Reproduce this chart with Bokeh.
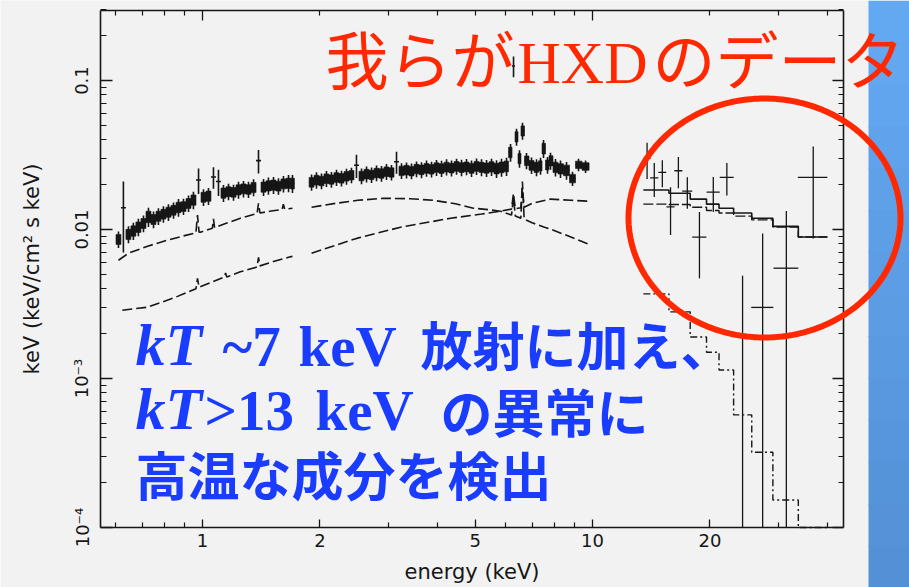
import numpy as np
from bokeh.plotting import figure
from bokeh.models import (FixedTicker, LogAxis, Label, BoxAnnotation, PolyAnnotation,
                          Range1d, BasicTickFormatter)
from bokeh.embed import file_html
from bokeh.resources import INLINE

# ---------------- XIS spectrum: low-energy chip segment (below the Si-edge gap) -------------
xis1_e = [0.609, 0.627, 0.646, 0.665, 0.685, 0.706, 0.727, 0.749, 0.771, 0.794, 0.818, 0.843,
          0.868, 0.894, 0.921, 0.948, 0.977, 1.006, 1.036, 1.067, 1.099, 1.132, 1.166, 1.201,
          1.237, 1.274, 1.312, 1.352, 1.392, 1.434, 1.476, 1.521, 1.566, 1.613, 1.662, 1.701]
xis1_f = [0.0086, 0.0140, 0.0093, 0.0098, 0.0104, 0.0110, 0.0122, 0.0117, 0.0123, 0.0127, 0.0131, 0.0135,
          0.0141, 0.0143, 0.0150, 0.0158, 0.0215, 0.0165, 0.0168, 0.0225, 0.0210, 0.0176, 0.0180, 0.0178,
          0.0185, 0.0188, 0.0186, 0.0192, 0.0290, 0.0193, 0.0197, 0.0199, 0.0196, 0.0203, 0.0205, 0.0204]
xis1_err = [0.0011, 0.0070, 0.0012, 0.0013, 0.0014, 0.0014, 0.0018, 0.0015, 0.0016, 0.0016, 0.0017, 0.0017,
            0.0019, 0.0018, 0.0019, 0.0021, 0.0042, 0.0021, 0.0022, 0.0037, 0.0042, 0.0023, 0.0023, 0.0022,
            0.0024, 0.0024, 0.0023, 0.0025, 0.0052, 0.0025, 0.0026, 0.0026, 0.0025, 0.0026, 0.0027, 0.0028]

# ---------------- XIS spectrum: 1.9-10 keV segment ---------------------------------------------
xis2_e = [1.904, 1.960, 2.019, 2.079, 2.141, 2.206, 2.272, 2.340, 2.410, 2.482, 2.557, 2.634,
          2.713, 2.794, 2.877, 2.963, 3.052, 3.144, 3.238, 3.335, 3.435, 3.538, 3.644, 3.753,
          3.866, 3.981, 4.101, 4.224, 4.350, 4.481, 4.615, 4.753, 4.895, 5.042, 5.193, 5.349,
          5.509, 5.674, 5.844, 6.019, 6.163, 6.273, 6.385, 6.498, 6.614, 6.772, 6.976, 7.185,
          7.357, 7.488, 7.667, 7.803, 8.036, 8.277, 8.577, 8.886, 9.207, 9.597]
xis2_f = [0.0208, 0.0215, 0.0212, 0.0220, 0.0217, 0.0224, 0.0221, 0.0228, 0.0232, 0.0270, 0.0229, 0.0236,
          0.0233, 0.0240, 0.0238, 0.0245, 0.0242, 0.0285, 0.0248, 0.0251, 0.0247, 0.0255, 0.0252, 0.0258,
          0.0254, 0.0261, 0.0257, 0.0263, 0.0259, 0.0266, 0.0261, 0.0264, 0.0258, 0.0266, 0.0262, 0.0259,
          0.0264, 0.0257, 0.0262, 0.0266, 0.0330, 0.1250, 0.0420, 0.0300, 0.0460, 0.0290, 0.0270, 0.0262,
          0.0268, 0.0350, 0.0272, 0.0290, 0.0262, 0.0256, 0.0250, 0.0220, 0.0272, 0.0265]
xis2_err = [0.0026, 0.0027, 0.0026, 0.0027, 0.0026, 0.0028, 0.0027, 0.0028, 0.0028, 0.0048, 0.0028, 0.0029,
            0.0028, 0.0029, 0.0029, 0.0030, 0.0029, 0.0048, 0.0030, 0.0031, 0.0030, 0.0031, 0.0031, 0.0032,
            0.0031, 0.0032, 0.0032, 0.0033, 0.0032, 0.0033, 0.0033, 0.0033, 0.0033, 0.0034, 0.0034, 0.0034,
            0.0035, 0.0035, 0.0036, 0.0037, 0.0045, 0.0200, 0.0055, 0.0040, 0.0060, 0.0036, 0.0034, 0.0034,
            0.0035, 0.0048, 0.0035, 0.0038, 0.0035, 0.0034, 0.0034, 0.0024, 0.0026, 0.0026]

# ---------------- model components in the XIS band ---------------------------------------------
# kT ~ 7 keV component
cool1_e = [0.609, 0.646, 0.72, 0.813, 0.90, 0.962, 0.971, 0.980, 0.988, 1.06, 1.067, 1.074,
           1.15, 1.251, 1.38, 1.392, 1.404, 1.50, 1.60, 1.612, 1.625, 1.701]
cool1_f = [0.00622, 0.00693, 0.0077, 0.00848, 0.0091, 0.0095, 0.0125, 0.0096, 0.0096, 0.0102, 0.0118, 0.0103,
           0.0110, 0.0119, 0.0128, 0.0150, 0.0129, 0.0133, 0.0136, 0.0148, 0.0137, 0.0139]
cool2_e = [1.904, 2.2, 2.5, 2.91, 3.4, 3.91, 4.45, 4.95, 5.4, 5.81, 6.20, 6.27, 6.34, 6.55, 6.61, 6.68,
           7.0, 7.5, 7.94, 8.8, 9.77]
cool2_f = [0.0141, 0.0150, 0.0157, 0.0162, 0.0161, 0.0157, 0.0149, 0.0139, 0.0136, 0.01327, 0.0125, 0.0165,
           0.0123, 0.0119, 0.0210, 0.0117, 0.0111, 0.0104, 0.00989, 0.0089, 0.00796]
# kT > 13 keV component
hot1_e = [0.623, 0.723, 0.85, 0.962, 0.971, 0.980, 1.05, 1.138, 1.146, 1.154, 1.25, 1.38, 1.392, 1.404,
          1.52, 1.662, 1.701]
hot1_f = [0.00287, 0.00301, 0.0035, 0.0040, 0.0047, 0.0041, 0.0044, 0.0048, 0.0051, 0.0048, 0.0052, 0.0056,
          0.0065, 0.0057, 0.0061, 0.00651, 0.0066]
hot2_e = [1.904, 2.496, 3.219, 4.325, 5.2, 5.81, 6.2, 6.27, 6.34, 6.55, 6.61, 6.68, 7.0, 7.80, 8.8, 9.77]
hot2_f = [0.00693, 0.00875, 0.01036, 0.0119, 0.0127, 0.01327, 0.0137, 0.0175, 0.0138, 0.0140, 0.0190, 0.0141,
          0.0150, 0.0160, 0.0157, 0.0155]

# ---------------- HXD/PIN data points -----------------------------------------------------------
hxd_e = [13.8, 14.4, 15.1, 15.85, 16.6, 17.5, 18.8, 20.4, 22.1, 24.25, 27.3, 31.4, 36.8]
hxd_de = [0.29, 0.35, 0.35, 0.38, 0.39, 0.52, 0.78, 0.79, 0.91, 1.28, 1.78, 2.3, 3.2]
hxd_f = [0.0300, 0.0222, 0.0242, 0.0142, 0.0248, 0.0181, 0.0089, 0.0178, 0.0224, -0.0006, 0.0030, 0.0055, 0.0224]
hxd_err = [0.0082, 0.0057, 0.0050, 0.0050, 0.0059, 0.0043, 0.0042, 0.0047, 0.0055, 0.0055, 0.0064, 0.0078, 0.0137]

# HXD model histograms
hxd_edges = [13.5, 15.7, 17.8, 19.6, 21.1, 23.0, 25.6, 29.0, 33.7, 40.0]
hxd_total = [0.0184, 0.0175, 0.0160, 0.0148, 0.0139, 0.0129, 0.0119, 0.0105, 0.0089]
hxd_hot = [0.0148, 0.0147, 0.0141, 0.0134, 0.0129, 0.0123, 0.0116, 0.0104, 0.0089]
hxd_cool = [0.0037, 0.0028, 0.0019, 0.0015, 0.00114, 0.00057, 0.00032, 0.000153, 0.00007]

# ---------------- axes ---------------------------------------------------------------------------
XLO, XHI = 0.5477, 44.0
YLO, YHI = 1e-4, 0.295
x_ticks = [1, 2, 5, 10, 20]
x_minor = [0.6, 0.7, 0.8, 0.9, 3, 4, 6, 7, 8, 9, 30, 40]
top_ticks = [1, 10]
top_minor = [0.6, 0.7, 0.8, 0.9, 2, 3, 4, 5, 6, 7, 8, 9, 20, 30, 40]
y_ticks = [1e-4, 1e-3, 1e-2, 1e-1]
y_tick_labels = ["10⁻⁴", "10⁻³", "0.01", "0.1"]
y_minor = [k * 10.0 ** e for e in (-4, -3, -2, -1) for k in range(2, 10)]

INK = "#161616"
RED = "#ff2800"
BLUE = "#1a3cff"
BG = "#f2f2f2"

# page and plot-box geometry in pixels
W, H = 909, 587
BOX_L, BOX_R, BOX_T, BOX_B = 100, 843, 10, 527

# the drawing area covers the whole page; the data box is framed by axes at fixed places
px_per_dec_x = (BOX_R - BOX_L) / (np.log10(XHI) - np.log10(XLO))
px_per_dec_y = (BOX_B - BOX_T) / (np.log10(YHI) - np.log10(YLO))
X0 = 10 ** (np.log10(XLO) - BOX_L / px_per_dec_x)
X1 = 10 ** (np.log10(XHI) + (W - BOX_R) / px_per_dec_x)
Y0 = 10 ** (np.log10(YLO) - (H - BOX_B) / px_per_dec_y)
Y1 = 10 ** (np.log10(YHI) + BOX_T / px_per_dec_y)

p = figure(width=W, height=H, x_axis_type="log", y_axis_type="log",
           x_range=Range1d(X0, X1), y_range=Range1d(Y0, Y1),
           output_backend="svg", toolbar_location=None, min_border=0,
           background_fill_color=BG, border_fill_color=BG, outline_line_color=None)
p.xgrid.visible = False
p.ygrid.visible = False


def style_axis(ax, tick_in, minor_in):
    ax.axis_line_color = INK
    ax.axis_line_width = 1.6
    ax.major_tick_line_color = INK
    ax.minor_tick_line_color = INK
    ax.major_tick_line_width = 1.3
    ax.minor_tick_line_width = 1.2
    ax.major_tick_in = tick_in
    ax.major_tick_out = 0
    ax.minor_tick_in = minor_in
    ax.minor_tick_out = 0


def silent_labels(ax):
    # tick marks only on the top/right edges of the box
    ax.major_label_text_font_size = "1px"
    ax.major_label_text_alpha = 0
    ax.major_label_standoff = 0


xa = p.xaxis[0]
xa.fixed_location = YLO
xa.bounds = (XLO, XHI)
xa.ticker = FixedTicker(ticks=x_ticks, minor_ticks=x_minor)
xa.formatter = BasicTickFormatter()
style_axis(xa, 8, 5)
xa.major_label_text_font = "DejaVu Sans"
xa.major_label_text_font_size = "18px"
xa.major_label_text_color = INK
xa.major_label_standoff = 6
xa.axis_label = "energy (keV)"
xa.axis_label_text_font = "DejaVu Sans"
xa.axis_label_text_font_size = "21px"
xa.axis_label_text_font_style = "normal"
xa.axis_label_text_color = INK
xa.axis_label_standoff = 10

ya = p.yaxis[0]
ya.fixed_location = XLO
ya.bounds = (YLO, YHI)
ya.ticker = FixedTicker(ticks=y_ticks, minor_ticks=y_minor)
ya.formatter = BasicTickFormatter()
ya.major_label_overrides = dict(zip(y_ticks, y_tick_labels))
style_axis(ya, 12, 6)
ya.major_label_orientation = "vertical"
ya.major_label_text_font = "DejaVu Sans"
ya.major_label_text_font_size = "18px"
ya.major_label_text_color = INK
ya.major_label_standoff = 8
ya.axis_label = "keV (keV/cm² s keV)"
ya.axis_label_text_font = "DejaVu Sans"
ya.axis_label_text_font_size = "21px"
ya.axis_label_text_font_style = "normal"
ya.axis_label_text_color = INK
ya.axis_label_standoff = 25

top_ax = LogAxis(ticker=FixedTicker(ticks=top_ticks, minor_ticks=top_minor),
                 fixed_location=YHI, bounds=(XLO, XHI))
style_axis(top_ax, 10, 5)
silent_labels(top_ax)
p.add_layout(top_ax, "above")

right_ax = LogAxis(ticker=FixedTicker(ticks=y_ticks, minor_ticks=y_minor),
                   fixed_location=XHI, bounds=(YLO, YHI))
style_axis(right_ax, 11, 5)
silent_labels(right_ax)
p.add_layout(right_ax, "right")


# ---------------- spectra ------------------------------------------------------------------------
def bin_edges(e):
    e = np.asarray(e, dtype=float)
    mid = np.sqrt(e[:-1] * e[1:])
    lo = np.concatenate([[e[0] ** 2 / mid[0]], mid])
    hi = np.concatenate([mid, [e[-1] ** 2 / mid[-1]]])
    return lo, hi


def error_crosses(e, f, err, lo_edge, hi_edge, width, core=False):
    e = np.asarray(e, dtype=float)
    f = np.asarray(f, dtype=float)
    err = np.asarray(err, dtype=float)
    lo_edge = np.asarray(lo_edge)
    hi_edge = np.asarray(hi_edge)
    low = np.maximum(f - err, YLO)          # error bars stop at the bottom of the box
    p.segment(x0=e, y0=low, x1=e, y1=f + err, line_color=INK, line_width=width)
    ok = f > YLO
    if core:
        # dense instrument bins: shade the inner part of the ordinary (non-line) error bars
        c = ok & (err / np.where(f > 0, f, 1) <= 0.15)
        p.quad(left=lo_edge[c], right=hi_edge[c], bottom=f[c] - 0.6 * err[c],
               top=f[c] + 0.6 * err[c], fill_color=INK, line_color=INK, line_width=0.6)
    p.segment(x0=lo_edge[ok], y0=f[ok], x1=hi_edge[ok], y1=f[ok], line_color=INK, line_width=width)


for e, f, err in ((xis1_e, xis1_f, xis1_err), (xis2_e, xis2_f, xis2_err)):
    lo, hi = bin_edges(e)
    error_crosses(e, f, err, lo, hi, 1.6, core=True)

# model components in the XIS band
for e, f in ((cool1_e, cool1_f), (cool2_e, cool2_f), (hot1_e, hot1_f), (hot2_e, hot2_f)):
    p.line(e, f, line_color=INK, line_width=1.6, line_dash="10 4")

# HXD points
hxd_lo = np.asarray(hxd_e) - np.asarray(hxd_de)
hxd_hi = np.asarray(hxd_e) + np.asarray(hxd_de)
error_crosses(hxd_e, hxd_f, hxd_err, hxd_lo, hxd_hi, 1.3)


# HXD model histograms
def hist_y(vals):
    return np.maximum(np.asarray(vals + [vals[-1]], dtype=float), YLO)


p.step(x=hxd_edges, y=hist_y(hxd_total), mode="after", line_color=INK, line_width=1.6)
p.step(x=hxd_edges, y=hist_y(hxd_hot), mode="after", line_color=INK, line_width=1.4,
       line_dash="10 3")
p.step(x=hxd_edges, y=hist_y(hxd_cool), mode="after", line_color=INK, line_width=1.4,
       line_dash="7 3 2 3")


# ---------------- slide decorations ---------------------------------------------------------------
def sy(cy):
    return H - cy


# blue side bar with a soft vertical shading
n_bands = 14
top_rgb = np.array([99, 169, 242])
bot_rgb = np.array([84, 144, 214])
for i in range(n_bands):
    t = i / (n_bands - 1)
    r, g, b = (top_rgb + (bot_rgb - top_rgb) * t).round().astype(int)
    y0 = H * i / n_bands
    y1 = H * (i + 1) / n_bands + 1
    p.add_layout(BoxAnnotation(left=868, right=W, top=sy(y0), bottom=sy(y1),
                               left_units="screen", right_units="screen",
                               top_units="screen", bottom_units="screen",
                               fill_color=f"#{r:02x}{g:02x}{b:02x}", fill_alpha=1.0,
                               line_color=None))

# red ring around the HXD points
t = np.linspace(0, 2 * np.pi, 241)
ring_x = 764 + 136 * np.cos(t)
ring_y = sy(217.5) + 119.5 * np.sin(t)
p.add_layout(PolyAnnotation(xs=ring_x.tolist(), ys=ring_y.tolist(),
                            xs_units="screen", ys_units="screen",
                            fill_color=None, fill_alpha=0,
                            line_color=RED, line_alpha=1.0, line_width=6))

JP = "Noto Sans CJK JP"
SERIF = "Liberation Serif"
# baseline lift so that the given y is the alphabetic baseline of each face
LIFT = {JP: 0.45, SERIF: 0.37}


def text(s, cx, base, font, size, color, style="normal"):
    p.add_layout(Label(x=cx, y=sy(base - LIFT[font] * size), x_units="screen", y_units="screen",
                       text=s, text_font=font, text_font_size=f"{size}px",
                       text_font_style=style, text_color=color,
                       text_baseline="alphabetic", text_align="left"))


# headline
text("我らが", 325, 84, JP, 63, RED)
text("HXD", 517, 85, SERIF, 60, RED)
text("のデータ", 652, 84, JP, 63, RED)

# result statement
text("kT", 135, 367, SERIF, 60, BLUE, "bold italic")
text("~7", 222, 367, SERIF, 57, BLUE, "bold")
text("keV", 298, 367, SERIF, 57, BLUE, "bold")
text("放射に加え、", 420, 366, JP, 52, BLUE, "bold")
text("kT", 135, 431, SERIF, 60, BLUE, "bold italic")
text(">13", 204, 431, SERIF, 57, BLUE, "bold")
text("keV", 315, 431, SERIF, 57, BLUE, "bold")
text("の異常に", 440, 433, JP, 52, BLUE, "bold")
text("高温な成分を検出", 135, 496, JP, 52, BLUE, "bold")

open("out.html", "w").write(file_html(p, INLINE))
